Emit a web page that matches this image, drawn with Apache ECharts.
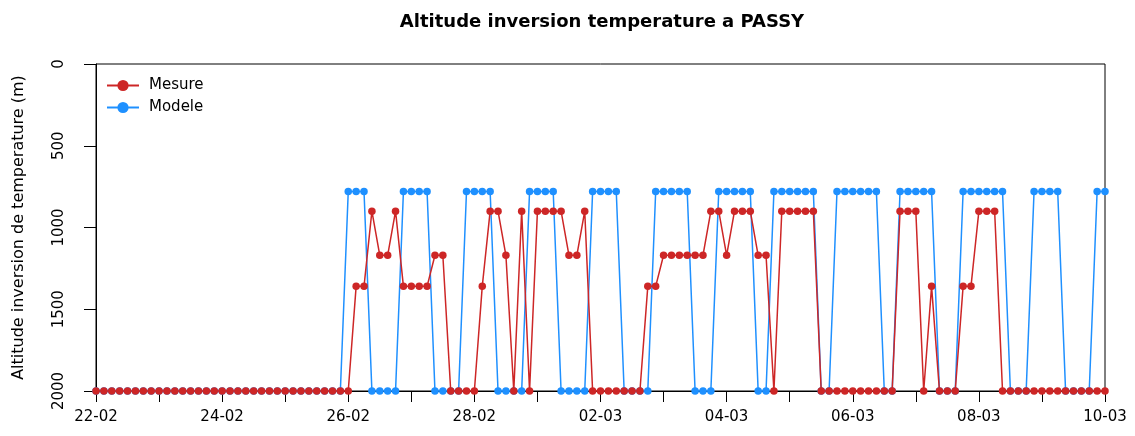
<!DOCTYPE html>
<html>
<head>
<meta charset="utf-8">
<script src="https://cdn.jsdelivr.net/npm/echarts@6/dist/echarts.min.js"></script>
<style>html,body{margin:0;padding:0;background:#fff}#c{width:1135px;height:436px}</style>
</head>
<body>
<div id="c"></div>
<script>
// Days of the period (3-hourly observations, 8 per day)
var days = ["22-02","23-02","24-02","25-02","26-02","27-02","28-02","01-03","02-03","03-03","04-03","05-03","06-03","07-03","08-03","09-03","10-03"];
var hours = ["00h","03h","06h","09h","12h","15h","18h","21h"];
var tickLabels = ["22-02","24-02","26-02","28-02","02-03","04-03","06-03","08-03","10-03"];

// Mesure (measured inversion altitude, m)
var mesure = [
2000,2000,2000,2000,2000,2000,2000,2000,
2000,2000,2000,2000,2000,2000,2000,2000,
2000,2000,2000,2000,2000,2000,2000,2000,
2000,2000,2000,2000,2000,2000,2000,2000,
2000,1360,1360,900,1170,1170,900,1360,
1360,1360,1360,1170,1170,2000,2000,2000,
2000,1360,900,900,1170,2000,900,2000,
900,900,900,900,1170,1170,900,2000,
2000,2000,2000,2000,2000,2000,1360,1360,
1170,1170,1170,1170,1170,1170,900,900,
1170,900,900,900,1170,1170,2000,900,
900,900,900,900,2000,2000,2000,2000,
2000,2000,2000,2000,2000,2000,900,900,
900,2000,1360,2000,2000,2000,1360,1360,
900,900,900,2000,2000,2000,2000,2000,
2000,2000,2000,2000,2000,2000,2000,2000,
2000
];

// Modele (model inversion altitude, m)
var modele = [
2000,2000,2000,2000,2000,2000,2000,2000,
2000,2000,2000,2000,2000,2000,2000,2000,
2000,2000,2000,2000,2000,2000,2000,2000,
2000,2000,2000,2000,2000,2000,2000,2000,
780,780,780,2000,2000,2000,2000,780,
780,780,780,2000,2000,2000,2000,780,
780,780,780,2000,2000,2000,2000,780,
780,780,780,2000,2000,2000,2000,780,
780,780,780,2000,2000,2000,2000,780,
780,780,780,780,2000,2000,2000,780,
780,780,780,780,2000,2000,780,780,
780,780,780,780,2000,2000,780,780,
780,780,780,780,2000,2000,780,780,
780,780,780,2000,2000,2000,780,780,
780,780,780,780,2000,2000,2000,780,
780,780,780,2000,2000,2000,2000,780,
780
];

var categories = [];
for (var d = 0; d < days.length; d++) {
  for (var h = 0; h < hours.length; h++) {
    if (d === days.length - 1 && h > 0) break;
    categories.push(days[d] + " " + hours[h]);
  }
}

var FONT = "DejaVu Sans, Verdana, sans-serif";
var chart = echarts.init(document.getElementById('c'), null, {renderer: 'canvas'});
chart.setOption({
  animation: false,
  backgroundColor: '#ffffff',
  title: {
    text: 'Altitude inversion temperature a PASSY',
    left: 597, top: 8, textAlign: 'center',
    textStyle: {fontFamily: FONT, fontSize: 18, fontWeight: 'bold', color: '#000'}
  },
  legend: {
    data: ['Mesure', 'Modele'],
    orient: 'vertical',
    left: 101, top: 73,
    itemWidth: 32, itemHeight: 14, itemGap: 7,
    textStyle: {fontFamily: FONT, fontSize: 15, color: '#000', padding: [0,0,0,5]}
  },
  grid: {left: 96, right: 30, top: 64, bottom: 45, show: true, borderColor: '#000', borderWidth: 1, backgroundColor: 'transparent'},
  xAxis: {
    type: 'category',
    data: categories,
    boundaryGap: false,
    axisLine: {onZero: false, lineStyle: {color: '#000', width: 1}},
    axisTick: {length: 11, lineStyle: {color: '#000'}, interval: function (i) { return i % 8 === 0; }},
    axisLabel: {
      interval: function (i) { return i % 16 === 0; },
      formatter: function (v, i) { return tickLabels[i / 16]; },
      margin: 19, fontFamily: FONT, fontSize: 15, color: '#000'
    },
    splitLine: {show: false}
  },
  yAxis: {
    type: 'value',
    inverse: true,
    min: 0, max: 2000, interval: 500,
    name: 'Altitude inversion de temperature (m)',
    nameLocation: 'middle',
    nameGap: 69,
    nameTextStyle: {fontFamily: FONT, fontSize: 16, color: '#000'},
    axisLine: {show: true, onZero: false, lineStyle: {color: '#000', width: 1}},
    axisTick: {show: true, length: 12, lineStyle: {color: '#000'}},
    axisLabel: {rotate: 90, margin: 29, fontFamily: FONT, fontSize: 15, color: '#000', align: 'center', verticalAlign: 'bottom',
      formatter: function (v) { return String(v); }},
    splitLine: {show: false}
  },
  series: [
    {
      name: 'Modele', type: 'line', data: modele,
      showAllSymbol: true, symbol: 'circle', symbolSize: 7.5,
      itemStyle: {color: '#1e90ff'}, lineStyle: {color: '#1e90ff', width: 1.5},
      z: 2
    },
    {
      name: 'Mesure', type: 'line', data: mesure,
      showAllSymbol: true, symbol: 'circle', symbolSize: 7.5,
      itemStyle: {color: '#cd2626'}, lineStyle: {color: '#cd2626', width: 1.5},
      z: 3
    }
  ]
});
</script>
</body>
</html>
